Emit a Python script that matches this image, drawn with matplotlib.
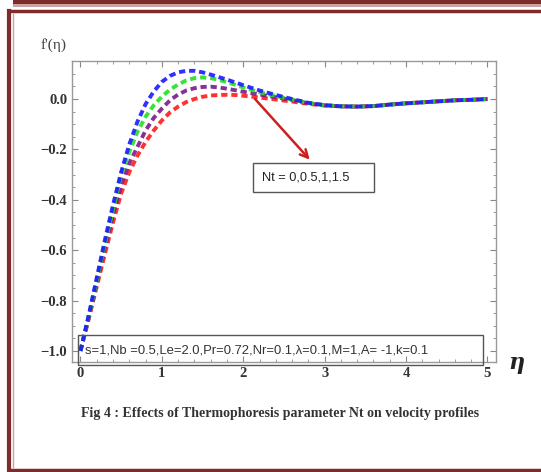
import numpy as np
import matplotlib
matplotlib.use("Agg")
import matplotlib.pyplot as plt
from matplotlib.patches import Rectangle
from matplotlib.lines import Line2D
from matplotlib.ticker import MultipleLocator

# eta grid and velocity profiles f'(eta) for Nt = 0, 0.5, 1, 1.5
eta = [0, 0.1, 0.2, 0.3, 0.4, 0.5, 0.6, 0.7, 0.8, 0.9, 1.0, 1.1, 1.2, 1.3, 1.4, 1.5,
       1.6, 1.7, 1.8, 1.9, 2.0, 2.2, 2.4, 2.6, 2.8, 3.0, 3.2, 3.4, 3.6, 3.8, 4.0,
       4.2, 4.4, 4.6, 4.8, 5.0]
f_blue = [-1.0, -0.86, -0.71, -0.56, -0.42, -0.29, -0.18, -0.09, -0.02, 0.03, 0.068,
          0.092, 0.106, 0.112, 0.112, 0.106, 0.097, 0.087, 0.077, 0.066, 0.055, 0.034,
          0.016, 0.0, -0.015, -0.024, -0.029, -0.030, -0.028, -0.022, -0.017, -0.013,
          -0.009, -0.005, -0.003, 0.0]
f_green = [-1.0, -0.865, -0.72, -0.575, -0.44, -0.30, -0.21, -0.13, -0.07, -0.025, 0.01,
           0.037, 0.058, 0.074, 0.083, 0.086, 0.083, 0.076, 0.067, 0.057, 0.046, 0.027,
           0.012, -0.002, -0.016, -0.025, -0.029, -0.030, -0.028, -0.022, -0.017, -0.013,
           -0.009, -0.005, -0.003, 0.0]
f_purple = [-1.0, -0.87, -0.73, -0.59, -0.46, -0.34, -0.255, -0.19, -0.125, -0.075, -0.038,
            -0.005, 0.018, 0.034, 0.043, 0.048, 0.049, 0.046, 0.041, 0.035, 0.029, 0.018,
            0.007, -0.004, -0.017, -0.025, -0.029, -0.030, -0.028, -0.022, -0.017, -0.013,
            -0.009, -0.005, -0.003, 0.0]
f_red = [-1.0, -0.875, -0.745, -0.615, -0.49, -0.375, -0.29, -0.225, -0.17, -0.125, -0.085,
         -0.053, -0.03, -0.012, 0.0, 0.009, 0.014, 0.016, 0.017, 0.016, 0.013, 0.006,
         -0.002, -0.01, -0.019, -0.026, -0.029, -0.030, -0.028, -0.022, -0.017, -0.013,
         -0.009, -0.005, -0.003, 0.0]

curves = [f_red, f_purple, f_green, f_blue]
colors = ["#ff1a1a", "#7a1a8a", "#22e022", "#1a1aff"]

yticks = [-1.0, -0.8, -0.6, -0.4, -0.2, 0.0]
xticks = [0, 1, 2, 3, 4, 5]

W, H = 541, 472
fig = plt.figure(figsize=(W / 100, H / 100), dpi=100)
fig.patch.set_facecolor("white")


def fx(px):
    return px / W


def fy(py):
    return 1 - py / H


# dark red page frame
frame_c = "#7d2b2b"
light_c = "#c9a3a3"
fig.add_artist(Rectangle((fx(13), fy(4)), 1, 4 / H, transform=fig.transFigure,
                         color=frame_c, lw=0))
fig.add_artist(Rectangle((fx(13), fy(7)), 1, 3 / H, transform=fig.transFigure,
                         color=light_c, lw=0))
fig.add_artist(Line2D([fx(9), 1], [fy(11), fy(11)], transform=fig.transFigure,
                      color=frame_c, lw=2.5))
fig.add_artist(Line2D([fx(9), fx(9)], [fy(11), fy(471)], transform=fig.transFigure,
                      color=frame_c, lw=3))
fig.add_artist(Line2D([fx(12.5), fx(12.5)], [fy(14), fy(467)], transform=fig.transFigure,
                      color=light_c, lw=1))
fig.add_artist(Line2D([fx(9), 1], [fy(470), fy(470)], transform=fig.transFigure,
                      color=frame_c, lw=2.5))

ax = fig.add_axes([fx(72), fy(362), fx(496) - fx(72), fy(61) - fy(362)])
for f, c in zip(curves, colors):
    ax.plot(eta, f, color=c, lw=2.8, dashes=(1.6, 1.0), alpha=0.9)

ax.set_xlim(-0.104, 5.105)
ax.set_ylim(-1.044, 0.151)
ax.set_xticks(xticks)
ax.set_yticks(yticks)
ax.xaxis.set_minor_locator(MultipleLocator(0.2))
ax.yaxis.set_minor_locator(MultipleLocator(0.05))
ax.tick_params(which="both", direction="in", top=True, right=True, color="#888888")
ax.tick_params(which="major", length=4, width=0.8, labelsize=10.5, labelcolor="#333333")
ax.tick_params(which="minor", length=2, width=0.6)
for s in ax.spines.values():
    s.set_color("#999999")
    s.set_linewidth(1.0)
for lab in ax.get_xticklabels() + ax.get_yticklabels():
    lab.set_family("Liberation Serif")
    lab.set_fontweight("bold")

# parameter box along the bottom
ax.add_patch(Rectangle((-0.03, -1.056), 4.97, 0.119, fill=False, ec="#555555",
                       lw=1.0, clip_on=False, zorder=5))
ax.text(0.06, -0.997, "s=1,Nb =0.5,Le=2.0,Pr=0.72,Nr=0.1,\u03bb=0.1,M=1,A= -1,k=0.1",
        fontsize=9.4, color="#333333", family="Liberation Sans", va="center", ha="left",
        zorder=6, clip_on=False)

# Nt annotation box with arrow
ax.add_patch(Rectangle((2.12, -0.368), 1.49, 0.113, fc="white", ec="#555555",
                       lw=1.0, zorder=5))
ax.text(2.23, -0.31, "Nt = 0,0.5,1,1.5", fontsize=9.2, color="#222222",
        family="Liberation Sans", va="center", ha="left", zorder=6)
ax.annotate("", xy=(2.84, -0.249), xytext=(2.12, 0.009),
            arrowprops=dict(arrowstyle="->", color="#cc2020", lw=1.8,
                            mutation_scale=14), zorder=6)

fig.text(fx(54), fy(45), "f'(\u03b7)", fontsize=11, color="#444444",
         family="Liberation Serif", ha="center", va="center")
fig.text(fx(516), fy(363), "\u03b7", fontsize=16, color="#222222",
         family="DejaVu Serif", style="italic", fontweight="bold",
         ha="center", va="center")
fig.text(fx(280), fy(413),
         "Fig 4 : Effects of Thermophoresis parameter Nt on velocity profiles",
         fontsize=10, color="#333333", family="Liberation Serif",
         fontweight="bold", ha="center", va="center")

fig.savefig("out.png", dpi=100)
